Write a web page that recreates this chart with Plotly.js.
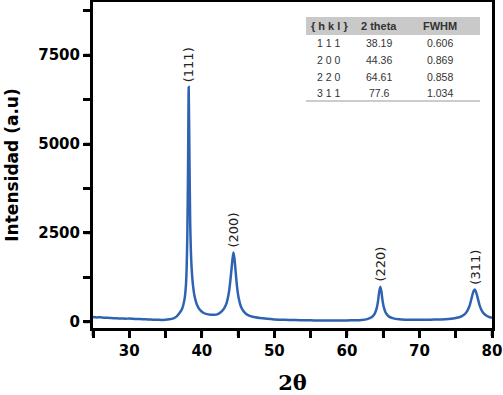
<!DOCTYPE html>
<html>
<head>
<meta charset="utf-8">
<script src="https://cdn.plot.ly/plotly-3.0.1.min.js"></script>
<style>html,body{margin:0;padding:0;background:#fff;}#chart{width:503px;height:395px;}</style>
</head>
<body>
<div id="chart"></div>
<script>
// XRD pattern
const twoTheta = [25,25.5,26,26.5,27,27.5,28,28.5,29,29.5,30,30.5,31,31.5,32,32.5,33,33.5,34,34.5,
  35,35.5,36,36.5,37,37.3,37.6,37.8,37.9,38.0,38.1,38.19,38.3,38.4,38.5,38.6,38.8,39.0,39.3,39.7,
  40.2,40.7,41.2,41.7,42.2,42.7,43.1,43.4,43.7,43.9,44.1,44.25,44.36,44.5,44.65,44.85,45.1,45.4,45.8,46.3,
  47,48,49,50,51,52,53,54,55,56,57,58,59,60,61,62,62.8,63.4,63.8,64.1,64.3,64.45,64.61,64.75,64.9,
  65.1,65.4,65.8,66.4,67.2,68,69,70,71,72,73,74,75,75.8,76.4,76.9,77.2,77.45,77.6,77.75,78.0,78.3,78.7,79.2,79.6,80];
const intensity = [140,128,132,120,118,110,105,100,98,92,95,88,82,80,74,72,68,62,60,58,
  62,75,95,150,270,380,620,1000,1450,2400,4300,6600,4500,2750,1950,1500,1000,720,500,350,
  260,220,205,200,220,290,390,520,790,1100,1500,1800,1950,1780,1450,1000,650,430,290,200,
  145,110,88,72,64,58,52,48,45,42,40,40,41,42,48,58,80,130,220,380,600,850,990,860,620,
  400,240,150,100,75,65,60,60,62,66,72,85,110,160,250,450,680,860,910,870,700,460,280,180,140,120];

const peakLabels = ['(111)','(200)','(220)','(311)'];
const peakPos = [38.19, 44.36, 64.61, 77.6];
const peakTop = [6600, 1950, 990, 910];

const tableHeader = ['{ h k l }','2 theta','FWHM'];
const tableHkl = ['1 1 1','2 0 0','2 2 0','3 1 1'];
const tableTheta = ['38.19','44.36','64.61','77.6'];
const tableFwhm = ['0.606','0.869','0.858','1.034'];

// axis ranges and ticks (labelled major ticks, unlabelled minor ticks)
const xRange = [25, 80];
const yRange = [-170, 8990];
const xTickVals = [25,30,35,40,45,50,55,60,65,70,75,80];
const xTickText = ['','30','','40','','50','','60','','70','','80'];
const yTickVals = [0,1250,2500,3750,5000,6250,7500,8750];
const yTickText = ['0','','2500','','5000','','7500',''];

// table layout (paper coordinates)
const colX = [0.5915, 0.7168, 0.8697];
const headerY = 0.9264;
const rowY0 = 0.8742, rowStep = 0.0515;

const annotations = peakLabels.map((t,i)=>({
  x:peakPos[i], y:peakTop[i], xref:'x', yref:'y', text:t, showarrow:false,
  textangle:-90, xanchor:'center', yanchor:'bottom', yshift:3,
  font:{family:'DejaVu Sans', size:13, color:'#222'}
}));
tableHeader.forEach((t,c)=>annotations.push({
  x:colX[c], y:headerY, xref:'paper', yref:'paper', text:'<b>'+t+'</b>', showarrow:false,
  xanchor:'center', yanchor:'middle', font:{family:'Liberation Sans', size:11, color:'#333'}
}));
[tableHkl, tableTheta, tableFwhm].forEach((col,c)=>col.forEach((t,r)=>annotations.push({
  x:colX[c], y:rowY0 - r*rowStep, xref:'paper', yref:'paper', text:t, showarrow:false,
  xanchor:'center', yanchor:'middle', font:{family:'Liberation Sans', size:10.5, color:'#333'}
})));

const bold = s => s ? '<b>'+s+'</b>' : '';
const tickFont = {family:'DejaVu Sans', size:15, color:'#000'};

// tick marks as unclipped paper-referenced shapes placed on the axis ranges
const toPaper = (v, r) => (v - r[0]) / (r[1] - r[0]);
const tickShapes = [
  ...xTickVals.map(v=>({type:'line', xref:'paper', yref:'paper',
     x0:toPaper(v,xRange), x1:toPaper(v,xRange), y0:0, y1:-0.0245,
     line:{color:'black', width:2.5}, layer:'above'})),
  ...yTickVals.map(v=>({type:'line', xref:'paper', yref:'paper',
     x0:0, x1:-0.0225, y0:toPaper(v,yRange), y1:toPaper(v,yRange),
     line:{color:'black', width:2.5}, layer:'above'}))
];

const traces = [
  {type:'scatter', mode:'lines', x:twoTheta, y:intensity,
   line:{color:'#2f63b2', width:2.5, shape:'spline', smoothing:0.6}, hoverinfo:'skip', showlegend:false}
];

const layout = {
  width:503, height:395,
  margin:{l:93, r:11, t:2, b:67},
  paper_bgcolor:'#fff', plot_bgcolor:'#fff',
  showlegend:false,
  xaxis:{range:xRange, tickmode:'array', tickvals:xTickVals, ticktext:xTickText.map(bold),
    ticks:'outside', ticklen:7, tickwidth:3, tickcolor:'black',
    showline:true, linewidth:3, linecolor:'black', mirror:true, showgrid:false, zeroline:false,
    tickfont:tickFont,
    title:{text:'<b>2θ</b>', font:{family:'DejaVu Serif', size:21, color:'#000'}, standoff:20}},
  yaxis:{range:yRange, tickmode:'array', tickvals:yTickVals, ticktext:yTickText.map(bold),
    ticks:'outside', ticklen:7, tickwidth:3, tickcolor:'black',
    showline:true, linewidth:3, linecolor:'black', mirror:true, showgrid:false, zeroline:false,
    tickfont:tickFont,
    title:{text:'<b>Intensidad (a.u)</b>', font:{family:'DejaVu Sans', size:17, color:'#000'}, standoff:16}},
  annotations:annotations,
  shapes:[
    {type:'rect', xref:'paper', yref:'paper', x0:0.5338, x1:0.9699, y0:0.8988, y1:0.954,
     fillcolor:'#c9c9c9', line:{width:0}, layer:'below'},
    {type:'line', xref:'paper', yref:'paper', x0:0.5338, x1:0.9699, y0:0.6963, y1:0.6963,
     line:{color:'#bbbbbb', width:1.5}},
    ...tickShapes]
};

Plotly.newPlot('chart', traces, layout, {displayModeBar:false});
</script>
</body>
</html>
